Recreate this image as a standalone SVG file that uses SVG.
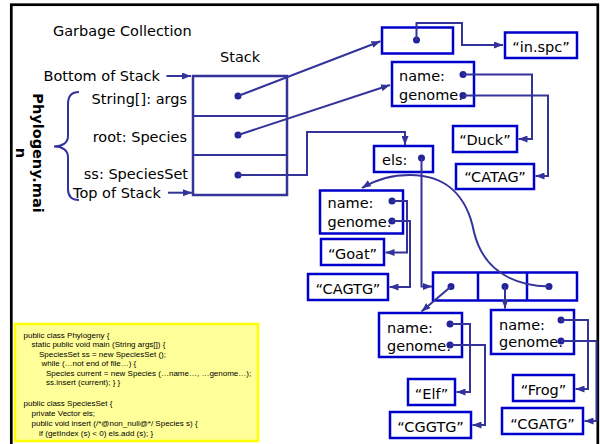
<svg xmlns="http://www.w3.org/2000/svg" width="600" height="444" viewBox="0 0 600 444">
<style>
  .t { font-family: "DejaVu Sans", Verdana, sans-serif; font-size: 14.5px; fill: #000; }
  .c { text-anchor: middle; }
  .r { text-anchor: end; }
  .b { font-weight: bold; }
  .box { fill: #fff; stroke: #0000cc; stroke-width: 2.5; }
  .stk { fill: #fff; stroke: #333399; stroke-width: 2.5; }
  .w { fill: none; stroke: #333399; stroke-width: 2; }
  .wa { fill: none; stroke: #333399; stroke-width: 2; marker-end: url(#ah); }
  .dot { fill: #222299; }
  .code { font-family: "Liberation Sans", Arial, sans-serif; font-size: 8px; fill: #000; }
</style>
<defs>
  <marker id="ah" markerUnits="userSpaceOnUse" markerWidth="9" markerHeight="7" refX="9" refY="3.5" orient="auto">
    <path d="M0,0 L9,3.5 L0,7 z" fill="#333399"/>
  </marker>
</defs>
<rect width="600" height="444" fill="#fff"/>
<rect x="11.3" y="4.7" width="586.5" height="460" fill="none" stroke="#000" stroke-width="2.7"/>

<g id="title"><text class="t" x="53" y="36">Garbage Collection</text></g>

<g id="frame-label">
  <g transform="translate(33,153) rotate(90)">
    <text class="t b c" x="0" y="0">Phylogeny.mai</text>
    <text class="t b c" x="0" y="17">n</text>
  </g>
</g>

<g id="stack">
  <text class="t" x="220" y="62">Stack</text>
  <rect class="stk" x="193" y="76" width="94" height="119"/>
  <line class="w" x1="193" y1="116" x2="287" y2="116" stroke-width="2.5"/>
  <line class="w" x1="193" y1="155" x2="287" y2="155" stroke-width="2.5"/>
  <circle class="dot" cx="238" cy="96" r="3.5"/>
  <circle class="dot" cx="238" cy="135" r="3.5"/>
  <circle class="dot" cx="238" cy="175" r="3.5"/>
</g>

<g id="stack-labels">
  <text class="t r" x="160" y="81">Bottom of Stack</text>
  <text class="t r" x="187" y="104">String[]: args</text>
  <text class="t r" x="187" y="141.5">root: Species</text>
  <text class="t r" x="188" y="178.5">ss: SpeciesSet</text>
  <text class="t" x="73" y="197.5">Top of Stack</text>
</g>

<g id="ptrbox">
  <rect class="box" x="382" y="27.5" width="71" height="26"/>
  <circle class="dot" cx="416.5" cy="40" r="3.5"/>
</g>
<g id="inspc">
  <rect class="box" x="505" y="32.5" width="72" height="25.5"/>
  <text class="t c" x="541" y="52">“in.spc”</text>
</g>

<g id="duck-species">
  <rect class="box" x="392" y="62" width="82" height="44"/>
  <text class="t" x="399" y="81">name:</text>
  <text class="t" x="399" y="99.5">genome:</text>
  <circle class="dot" cx="463" cy="74.5" r="3.5"/>
  <circle class="dot" cx="463" cy="95.5" r="3.5"/>
</g>
<g id="duck">
  <rect class="box" x="453" y="126" width="64" height="26"/>
  <text class="t c" x="485" y="145">“Duck”</text>
</g>
<g id="catag">
  <rect class="box" x="456" y="164" width="78" height="25"/>
  <text class="t c" x="495" y="182">“CATAG”</text>
</g>

<g id="els">
  <rect class="box" x="374" y="146" width="59" height="26"/>
  <text class="t" x="382" y="165">els:</text>
  <circle class="dot" cx="421.5" cy="158" r="3.5"/>
</g>

<g id="goat-species">
  <rect class="box" x="320" y="190.5" width="83" height="43"/>
  <text class="t" x="327.5" y="208">name:</text>
  <text class="t" x="327.5" y="227">genome:</text>
  <circle class="dot" cx="392" cy="201" r="3.5"/>
  <circle class="dot" cx="392" cy="221" r="3.5"/>
</g>
<g id="goat">
  <rect class="box" x="321" y="239" width="63" height="26"/>
  <text class="t c" x="352.5" y="258.5">“Goat”</text>
</g>
<g id="cagtg">
  <rect class="box" x="308" y="274" width="80" height="26"/>
  <text class="t c" x="348" y="293.5">“CAGTG”</text>
</g>

<g id="array">
  <rect class="box" x="433" y="272.5" width="144" height="28"/>
  <line x1="478" y1="272.5" x2="478" y2="300.5" stroke="#0000cc" stroke-width="2.5"/>
  <line x1="527" y1="272.5" x2="527" y2="300.5" stroke="#0000cc" stroke-width="2.5"/>
  <circle class="dot" cx="451" cy="286.5" r="3.5"/>
  <circle class="dot" cx="505" cy="286.5" r="3.5"/>
  <circle class="dot" cx="549" cy="286.5" r="3.5"/>
</g>

<g id="elf-species">
  <rect class="box" x="379" y="313" width="83" height="44"/>
  <text class="t" x="387" y="332.5">name:</text>
  <text class="t" x="387" y="350.5">genome:</text>
  <circle class="dot" cx="450" cy="324" r="3.5"/>
  <circle class="dot" cx="450" cy="345" r="3.5"/>
</g>
<g id="elf">
  <rect class="box" x="408" y="379" width="47" height="26"/>
  <text class="t c" x="431.5" y="398.5">“Elf”</text>
</g>
<g id="cggtg">
  <rect class="box" x="390" y="412" width="81" height="26"/>
  <text class="t c" x="430.5" y="432">“CGGTG”</text>
</g>

<g id="frog-species">
  <rect class="box" x="491" y="310" width="83" height="44"/>
  <text class="t" x="499" y="329.5">name:</text>
  <text class="t" x="499" y="347">genome:</text>
  <circle class="dot" cx="561" cy="320" r="3.5"/>
  <circle class="dot" cx="561" cy="341" r="3.5"/>
</g>
<g id="frog">
  <rect class="box" x="513" y="375" width="61" height="26"/>
  <text class="t c" x="543.5" y="394.5">“Frog”</text>
</g>
<g id="cgatg">
  <rect class="box" x="502" y="408" width="81" height="26"/>
  <text class="t c" x="542.5" y="428.5">“CGATG”</text>
</g>

<g id="code">
  <rect x="15" y="324" width="243" height="117" fill="#ffff99" stroke="#ffff00" stroke-width="2.5"/>
  <text class="code" x="23.5" y="337.5">public class Phylogeny {</text>
  <text class="code" x="31.5" y="347">static public void main (String args[]) {</text>
  <text class="code" x="39" y="356.5">SpeciesSet ss = new SpeciesSet ();</text>
  <text class="code" x="41.5" y="366">while (…not end of file…) {</text>
  <text class="code" x="46" y="375.5">Species current = new Species (…name…, …genome…);</text>
  <text class="code" x="46" y="385">ss.insert (current); } }</text>
  <text class="code" x="23.5" y="406">public class SpeciesSet {</text>
  <text class="code" x="31.5" y="416">private Vector els;</text>
  <text class="code" x="31.5" y="426">public void insert (/*@non_null@*/ Species s) {</text>
  <text class="code" x="39" y="436">if (getIndex (s) &lt; 0) els.add (s); }</text>
</g>

<g id="connectors">
  <path class="w" d="M79 92 C71 92 68 96 68 104 L68 136 C68 143 62 146.5 54 146.5 C62 146.5 68 150 68 157 L68 189 C68 196 71 200 79 200"/>
  <line class="wa" x1="166.5" y1="76" x2="191" y2="76"/>
  <line class="wa" x1="168" y1="192.7" x2="192" y2="192.7"/>
  <line class="wa" x1="238" y1="96" x2="380.5" y2="41.3"/>
  <line class="wa" x1="238" y1="135" x2="390" y2="85"/>
  <polyline class="wa" points="238,175 307,175 307,132 405,132 405,145"/>
  <polyline class="wa" points="416.5,40 416.5,23 462,23 462,45 503,45"/>
  <polyline class="wa" points="463,74.5 532,74.5 532,139 518.5,139"/>
  <polyline class="wa" points="463,95.5 548,95.5 548,176 535.5,176"/>
  <polyline class="wa" points="421.5,158 421.5,286.5 432,286.5"/>
  <path class="wa" d="M549 286.5 C502 285 481 261 474 232 C467 196 446 175 410 175 C390 175 375 180 362 188"/>
  <polyline class="wa" points="392,201 407,201 407,252.5 385.5,252.5"/>
  <polyline class="wa" points="392,221 410,221 410,287 389.5,287"/>
  <line class="wa" x1="451" y1="286.5" x2="421.5" y2="311.5"/>
  <line class="wa" x1="505" y1="286.5" x2="505" y2="308.5"/>
  <polyline class="wa" points="450,324 470,324 470,392 456.5,392"/>
  <polyline class="wa" points="450,345 485,345 485,425 472.5,425"/>
  <polyline class="wa" points="561,320 588,320 588,389 575.5,389"/>
  <polyline class="wa" points="561,341 596.5,341 596.5,421 584.5,421"/>
</g>
</svg>
